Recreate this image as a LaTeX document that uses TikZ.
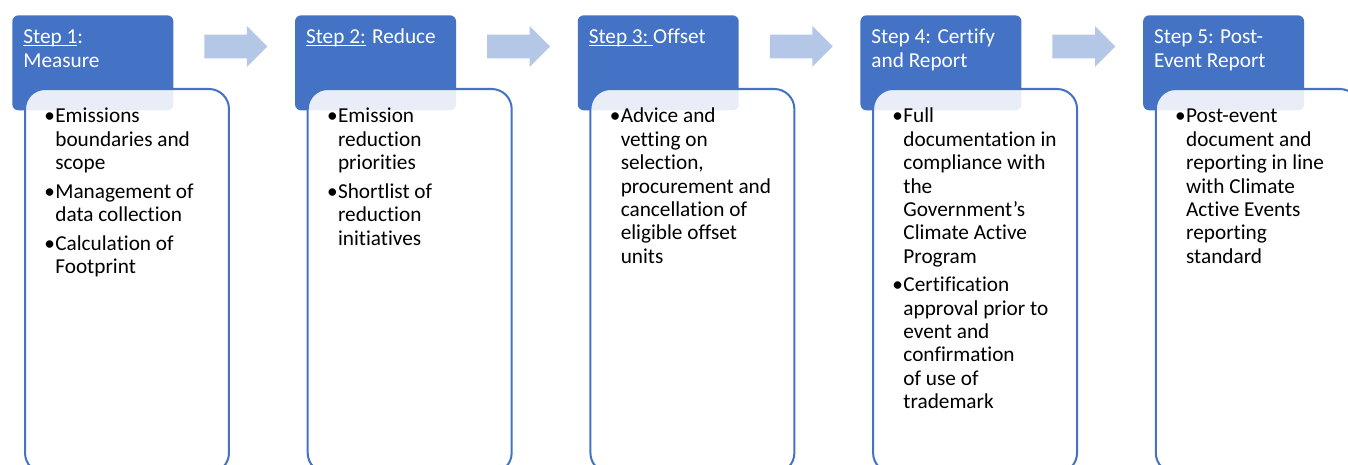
\documentclass[tikz,border=0pt]{standalone}
\usepackage{fontspec}
\setmainfont{Carlito}[Ligatures=NoCommon]
\usepackage{tikz}
\usetikzlibrary{shapes.arrows}

\definecolor{stepblue}{HTML}{4472C4}
\definecolor{arrowblue}{HTML}{B4C7E7}

\newlength{\ulwd}
\newcommand{\stepul}[1]{\settowidth{\ulwd}{#1}\rlap{\rule[-1.1pt]{\ulwd}{0.55pt}}#1}
\newcommand{\steptext}[1]{\begin{tabular}[t]{@{}l@{}}#1\end{tabular}}
\newcommand{\bulletlist}[1]{\begin{tabular}[t]{@{}p{0.22cm}@{}l@{}}#1\end{tabular}}

\begin{document}
\begin{tikzpicture}[x=0.02cm, y=-0.02cm,
	stephead/.style={fill=stepblue, rounded corners=0.12cm,
		minimum width=3.22cm, minimum height=1.9cm,
		anchor=north west, inner sep=0},
	stepbody/.style={draw=stepblue, line width=1.15pt, fill=white,
		fill opacity=0.88, rounded corners=0.4cm,
		minimum width=4.08cm, minimum height=7.68cm,
		anchor=north west, inner sep=0},
	headtxt/.style={text=white, anchor=base west, inner sep=0,
		font=\fontsize{12.1}{13.3}\selectfont},
	bodytxt/.style={text=black, anchor=base west, inner sep=0,
		font=\fontsize{12.1}{13.3}\selectfont},
	steparrow/.style={single arrow, fill=arrowblue, draw=none,
		minimum height=1.26cm, inner xsep=0, inner ysep=0.23cm,
		text height=0pt, text depth=0pt, text width=0pt,
		single arrow head extend=0.17cm, single arrow tip angle=90,
		anchor=tail}]
	\clip (0,0) rectangle (1348,465);

	\node[stephead] (H1) at (12,15) {};
	\node[stephead] (H2) at (294.7,15) {};
	\node[stephead] (H3) at (577.4,15) {};
	\node[stephead] (H4) at (860.1,15) {};
	\node[stephead] (H5) at (1142.8,15) {};

	\node[stepbody] (B1) at (24,88) {};
	\node[stepbody] (B2) at (306.7,88) {};
	\node[stepbody] (B3) at (589.4,88) {};
	\node[stepbody] (B4) at (872.1,88) {};
	\node[stepbody] (B5) at (1154.8,88) {};

	\node[steparrow] (A1) at (204,46.5) {};
	\node[steparrow] (A2) at (486.7,46.5) {};
	\node[steparrow] (A3) at (769.4,46.5) {};
	\node[steparrow] (A4) at (1052.1,46.5) {};

	\node[headtxt] (T1) at (23,44)
		{\steptext{\stepul{Step 1}:\\Measure}};
	\node[headtxt] (T2) at (305.7,44)
		{\steptext{\stepul{Step 2:} Reduce}};
	\node[headtxt] (T3) at (588.4,44)
		{\steptext{\stepul{Step 3:\ }Offset}};
	\node[headtxt] (T4) at (871.1,44)
		{\steptext{Step 4: Certify\\and Report}};
	\node[headtxt] (T5) at (1153.8,44)
		{\steptext{Step 5: Post-\\Event Report}};

	\node[bodytxt] (L1) at (44,123)
		{\bulletlist{\textbullet & Emissions\\ & boundaries and\\ & scope\\[3pt]
		\textbullet & Management of\\ & data collection\\[3pt]
		\textbullet & Calculation of\\ & Footprint}};
	\node[bodytxt] (L2) at (326.7,123)
		{\bulletlist{\textbullet & Emission\\ & reduction\\ & priorities\\[3pt]
		\textbullet & Shortlist of\\ & reduction\\ & initiatives}};
	\node[bodytxt] (L3) at (609.4,123)
		{\bulletlist{\textbullet & Advice and\\ & vetting on\\ & selection,\\
		& procurement and\\ & cancellation of\\ & eligible offset\\ & units}};
	\node[bodytxt] (L4) at (892.1,123)
		{\bulletlist{\textbullet & Full\\ & documentation in\\ & compliance with\\
		& the\\ & Government’s\\ & Climate Active\\ & Program\\[3pt]
		\textbullet & Certification\\ & approval prior to\\ & event and\\
		& confirmation\\ & of use of\\ & trademark}};
	\node[bodytxt] (L5) at (1174.8,123)
		{\bulletlist{\textbullet & Post-event\\ & document and\\ & reporting in line\\
		& with Climate\\ & Active Events\\ & reporting\\ & standard}};
\end{tikzpicture}
\end{document}
